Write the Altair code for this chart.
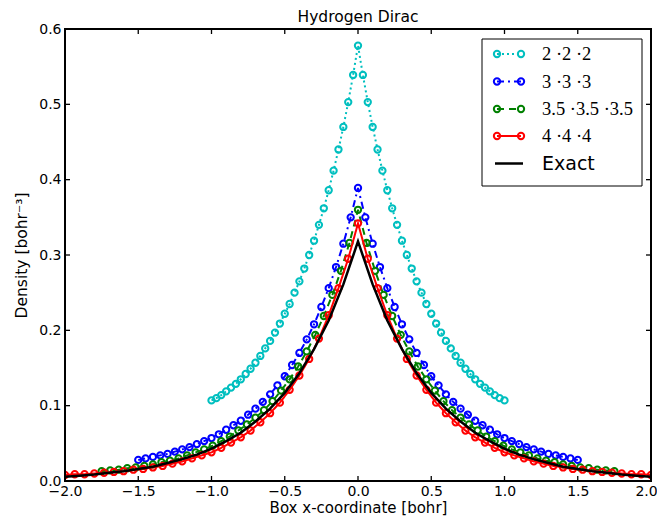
import altair as alt
import numpy as np
import pandas as pd

# ---------------- data ----------------
box_sizes = [2.0, 3.0, 3.5, 4.0]
labels = ["2 ·2 ·2", "3 ·3 ·3", "3.5 ·3.5 ·3.5", "4 ·4 ·4"]
colors = ["#00bfbf", "#0000ff", "#008000", "#ff0000"]

dens_2 = [0.107, 0.110, 0.114, 0.119, 0.124, 0.129, 0.135, 0.142, 0.149, 0.157,
          0.166, 0.176, 0.186, 0.197, 0.209, 0.222, 0.235, 0.250, 0.265, 0.282,
          0.300, 0.319, 0.340, 0.362, 0.386, 0.412, 0.440, 0.470, 0.503, 0.539,
          0.578,
          0.539, 0.503, 0.470, 0.440, 0.412, 0.386, 0.362, 0.340, 0.319, 0.300,
          0.282, 0.265, 0.250, 0.235, 0.222, 0.209, 0.197, 0.186, 0.176, 0.166,
          0.157, 0.149, 0.142, 0.135, 0.129, 0.124, 0.119, 0.114, 0.110, 0.107]

dens_3 = [0.028, 0.030, 0.032, 0.034, 0.036, 0.039, 0.042, 0.045, 0.049, 0.053,
          0.057, 0.062, 0.068, 0.074, 0.080, 0.088, 0.096, 0.105, 0.115, 0.127,
          0.139, 0.154, 0.170, 0.188, 0.208, 0.231, 0.256, 0.284, 0.315, 0.350,
          0.389,
          0.350, 0.315, 0.284, 0.256, 0.231, 0.208, 0.188, 0.170, 0.154, 0.139,
          0.127, 0.115, 0.105, 0.096, 0.088, 0.080, 0.074, 0.068, 0.062, 0.057,
          0.053, 0.049, 0.045, 0.042, 0.039, 0.036, 0.034, 0.032, 0.030, 0.028]

dens_35 = [0.013, 0.014, 0.015, 0.017, 0.018, 0.020, 0.022, 0.025, 0.027, 0.030,
           0.034, 0.038, 0.042, 0.047, 0.053, 0.059, 0.067, 0.075, 0.084, 0.094,
           0.106, 0.120, 0.135, 0.152, 0.172, 0.194, 0.219, 0.247, 0.279, 0.316,
           0.360,
           0.316, 0.279, 0.247, 0.219, 0.194, 0.172, 0.152, 0.135, 0.120, 0.106,
           0.094, 0.084, 0.075, 0.067, 0.059, 0.053, 0.047, 0.042, 0.038, 0.034,
           0.030, 0.027, 0.025, 0.022, 0.020, 0.018, 0.017, 0.015, 0.014, 0.013]

dens_4 = [0.008, 0.009, 0.009, 0.010, 0.011, 0.012, 0.013, 0.015, 0.016, 0.018,
          0.020, 0.023, 0.026, 0.030, 0.034, 0.038, 0.044, 0.051, 0.058, 0.067,
          0.078, 0.090, 0.104, 0.121, 0.140, 0.162, 0.189, 0.220, 0.256, 0.295,
          0.342,
          0.295, 0.256, 0.220, 0.189, 0.162, 0.140, 0.121, 0.104, 0.090, 0.078,
          0.067, 0.058, 0.051, 0.044, 0.038, 0.034, 0.030, 0.026, 0.023, 0.020,
          0.018, 0.016, 0.015, 0.013, 0.012, 0.011, 0.010, 0.009, 0.009, 0.008]

exact_x = [-2.0, -1.9, -1.8, -1.7, -1.6, -1.5, -1.4, -1.3, -1.2, -1.1, -1.0,
           -0.9, -0.8, -0.7, -0.6, -0.5, -0.4, -0.3, -0.2, -0.1, 0.0,
           0.1, 0.2, 0.3, 0.4, 0.5, 0.6, 0.7, 0.8, 0.9, 1.0,
           1.1, 1.2, 1.3, 1.4, 1.5, 1.6, 1.7, 1.8, 1.9, 2.0]
exact_y = [0.0058, 0.0071, 0.0087, 0.011, 0.013, 0.016, 0.019, 0.024, 0.029, 0.035,
           0.043, 0.053, 0.064, 0.079, 0.096, 0.117, 0.143, 0.175, 0.213, 0.261,
           0.318,
           0.261, 0.213, 0.175, 0.143, 0.117, 0.096, 0.079, 0.064, 0.053, 0.043,
           0.035, 0.029, 0.024, 0.019, 0.016, 0.013, 0.011, 0.0087, 0.0071, 0.0058]

x_ticks = [-2.0, -1.5, -1.0, -0.5, 0.0, 0.5, 1.0, 1.5, 2.0]
y_ticks = [0.0, 0.1, 0.2, 0.3, 0.4, 0.5, 0.6]

series_values = [dens_2, dens_3, dens_35, dens_4]
dashes = [[2, 3], [7, 4, 2, 4], [7, 5], [1, 0]]

# ---------------- layout ----------------
W, H = 586, 452
FONT = "DejaVu Sans"

xscale = alt.Scale(domain=[-2, 2], nice=False, zero=False)
yscale = alt.Scale(domain=[0, 0.6], nice=False, zero=False)

X = alt.X("x:Q", scale=xscale,
          axis=alt.Axis(values=x_ticks, format=".1f", tickSize=0, domain=False,
                        grid=False, labelFont=FONT, labelFontSize=14,
                        labelColor="black", labelPadding=3, labelFlush=False,
                        labelOverlap=False,
                        labelOffset={"condition": {"test": "datum.value == 2", "value": -5},
                                     "value": 0},
                        title="Box x-coordinate [bohr]", titleFont=FONT,
                        titleFontSize=15, titleFontWeight="normal",
                        titleColor="black", titlePadding=2))
Y = alt.Y("y:Q", scale=yscale,
          axis=alt.Axis(values=y_ticks, format=".1f", tickSize=0, domain=False,
                        grid=False, labelFont=FONT, labelFontSize=14,
                        labelColor="black", labelPadding=4, labelFlush=False,
                        labelOverlap=False,
                        title="Density [bohr⁻³]", titleFont=FONT,
                        titleFontSize=15.5, titleFontWeight="normal",
                        titleColor="black", titlePadding=9))

layers = []
for L, vals, col, dash, lab in zip(box_sizes, series_values, colors, dashes, labels):
    df = pd.DataFrame({"x": np.linspace(-L / 2, L / 2, len(vals)), "y": vals, "s": lab})
    layers.append(alt.Chart(df).mark_line(color=col, strokeWidth=2, strokeDash=dash,
                                          clip=True).encode(x=X, y=Y))
    layers.append(alt.Chart(df).mark_point(shape="circle", filled=False, color=col,
                                           strokeWidth=2, size=40, opacity=1,
                                           clip=True).encode(x=X, y=Y))

exact_df = pd.DataFrame({"x": exact_x, "y": exact_y})
layers.append(alt.Chart(exact_df).mark_line(color="black", strokeWidth=2.5,
                                            clip=True).encode(x=X, y=Y))

# inward ticks on all four sides
xt = pd.DataFrame({"x": x_ticks})
yt = pd.DataFrame({"y": y_ticks})
layers.append(alt.Chart(xt).mark_rule(color="black", strokeWidth=1.3).encode(
    x=X, y=alt.value(H), y2=alt.value(H - 5)))
layers.append(alt.Chart(xt).mark_rule(color="black", strokeWidth=1.3).encode(
    x=X, y=alt.value(0), y2=alt.value(5)))
layers.append(alt.Chart(yt).mark_rule(color="black", strokeWidth=1.3).encode(
    y=Y, x=alt.value(0), x2=alt.value(5)))
layers.append(alt.Chart(yt).mark_rule(color="black", strokeWidth=1.3).encode(
    y=Y, x=alt.value(W), x2=alt.value(W - 5)))

one = pd.DataFrame({"a": [0]})
# frame
layers.append(alt.Chart(one).mark_rect(filled=False, stroke="black", strokeWidth=2).encode(
    x=alt.value(0), x2=alt.value(W), y=alt.value(0), y2=alt.value(H)))

# title
layers.append(alt.Chart(one).mark_text(align="center", baseline="alphabetic", font=FONT,
                                       fontSize=15.5, color="black").encode(
    x=alt.value(W / 2), y=alt.value(-7), text=alt.value("Hydrogen Dirac")))

# legend
layers.append(alt.Chart(one).mark_rect(fill="white", stroke="black", strokeWidth=1).encode(
    x=alt.value(417), x2=alt.value(577), y=alt.value(10), y2=alt.value(157)))
row_y = [25, 52.5, 80, 107, 134.5]
for i, (col, dash, lab) in enumerate(zip(colors, dashes, labels)):
    yy = row_y[i]
    layers.append(alt.Chart(one).mark_rule(color=col, strokeWidth=2, strokeDash=dash).encode(
        x=alt.value(432), x2=alt.value(456), y=alt.value(yy)))
    for px in (432, 456):
        layers.append(alt.Chart(one).mark_point(shape="circle", filled=False, color=col,
                                                strokeWidth=2, size=40, opacity=1).encode(
            x=alt.value(px), y=alt.value(yy)))
    layers.append(alt.Chart(one).mark_text(align="left", baseline="middle",
                                           font="Liberation Serif", fontSize=18.5,
                                           color="black").encode(
        x=alt.value(477), y=alt.value(yy), text=alt.value(lab)))
layers.append(alt.Chart(one).mark_rule(color="black", strokeWidth=2.5).encode(
    x=alt.value(430), x2=alt.value(458), y=alt.value(row_y[4])))
layers.append(alt.Chart(one).mark_text(align="left", baseline="middle", font=FONT,
                                       fontSize=19, color="black").encode(
    x=alt.value(477), y=alt.value(row_y[4]), text=alt.value("Exact")))

chart = alt.layer(*layers).properties(
    width=W, height=H,
    autosize=alt.AutoSizeParams(type="none"),
    padding={"left": 57, "top": 21, "right": 6, "bottom": 37},
).configure_view(stroke=None)

chart.save("out.html", embed_options={"renderer": "svg", "actions": False})
